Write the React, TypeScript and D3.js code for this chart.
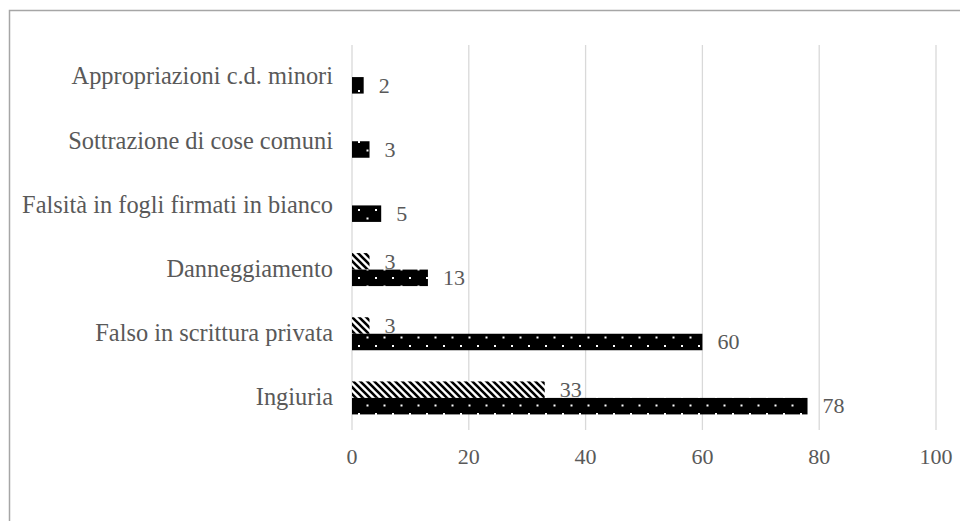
import React from "react";
import * as d3 from "d3";

const categories = [
  "Appropriazioni c.d. minori",
  "Sottrazione di cose comuni",
  "Falsità in fogli firmati in bianco",
  "Danneggiamento",
  "Falso in scrittura privata",
  "Ingiuria",
];
const seriesHatched = [0, 0, 0, 3, 3, 33];
const seriesDotted = [2, 3, 5, 13, 60, 78];
const xTicks = [0, 20, 40, 60, 80, 100];

const W = 960;
const H = 521;
const TEXT = "#595959";
const FONT = "'Liberation Serif', 'Times New Roman', serif";
const FS = 22;
const FS_CAT = 24.4;

export default function App() {
  const x = d3.scaleLinear().domain([0, 100]).range([352, 936]);
  const y = d3.scaleBand().domain(categories).range([45, 430]).paddingInner(0).paddingOuter(0);
  const barH = 16.5;

  return (
    <svg
      width={W}
      height={H}
      style={{ position: "absolute", left: 0, top: 0, background: "#fff" }}
      fontFamily={FONT}
    >
      <defs>
        <pattern id="hatch" patternUnits="userSpaceOnUse" width={7} height={7}>
          <rect width={7} height={7} fill="#fff" />
          <path
            d="M-2,-2 L9,9 M-2,5 L2,9 M5,-2 L9,2"
            stroke="#000"
            strokeWidth={2.6}
          />
        </pattern>
        <pattern id="dots" patternUnits="userSpaceOnUse" width={17} height={17} x={1} y={5}>
          <rect width={17} height={17} fill="#000" />
          <rect x={0} y={0} width={2} height={2} fill="#fff" />
          <rect x={8.5} y={8.5} width={2} height={2} fill="#fff" />
        </pattern>
      </defs>
      <rect x={0} y={0} width={W} height={H} fill="#fff" />
      <rect x={9.5} y={10.5} width={1200} height={1200} fill="none" stroke="#a6a6a6" strokeWidth={1.5} />

      {xTicks.map((t) => (
        <g key={t}>
          <line x1={x(t)} x2={x(t)} y1={45} y2={430} stroke="#d9d9d9" strokeWidth={1.3} />
          <text x={x(t)} y={464} textAnchor="middle" fontSize={FS} fill={TEXT}>
            {t}
          </text>
        </g>
      ))}

      {categories.map((c, i) => {
        const yc = (y(c) as number) + y.bandwidth() / 2;
        const h = seriesHatched[i];
        const d = seriesDotted[i];
        return (
          <g key={c}>
            <text x={333} y={yc} dy="0.3em" textAnchor="end" fontSize={FS_CAT} fill={TEXT}>
              {c}
            </text>
            {h > 0 && (
              <>
                <rect x={x(0)} y={yc - barH} width={x(h) - x(0)} height={barH} fill="url(#hatch)" />
                <text x={x(h) + 15} y={yc - barH / 2} dy="0.33em" fontSize={FS} fill={TEXT}>
                  {h}
                </text>
              </>
            )}
            <rect x={x(0)} y={yc} width={x(d) - x(0)} height={barH} fill="url(#dots)" />
            <text x={x(d) + 15} y={yc + barH / 2} dy="0.33em" fontSize={FS} fill={TEXT}>
              {d}
            </text>
          </g>
        );
      })}
    </svg>
  );
}
